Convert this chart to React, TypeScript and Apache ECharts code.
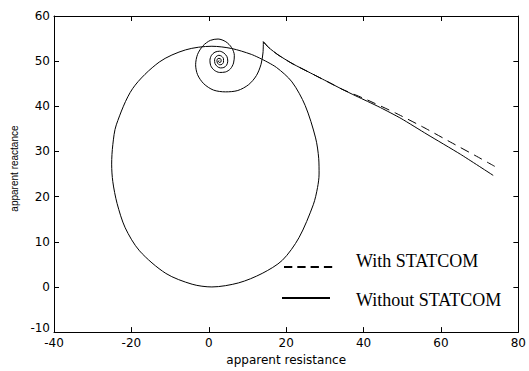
import React, { useEffect, useRef } from "react";
import * as echarts from "echarts";

// x-axis / y-axis ranges & ticks
const xTicks = [-40, -20, 0, 20, 40, 60, 80];
const yTicks = [-10, 0, 10, 20, 30, 40, 50, 60];

// Without STATCOM: approach line (peak -> end)
const solidLine: number[][] = [
  [14.1, 54.3], [15.5, 53.0], [17.9, 51.4], [21.5, 49.5], [26.7, 47.2],
  [30.8, 45.4], [34.4, 43.8], [38.0, 42.3], [41.0, 41.1], [44.4, 39.7],
  [49.7, 37.3], [56.4, 33.8], [65.0, 29.4], [73.5, 24.7],
];

// With STATCOM: approach line (peak -> end)
const dashedLine: number[][] = [
  [14.1, 54.3], [15.5, 53.0], [17.9, 51.4], [21.5, 49.5], [26.7, 47.2],
  [30.8, 45.4], [34.4, 43.8], [38.0, 42.5], [41.0, 41.4], [48.3, 38.5],
  [55.6, 35.3], [62.4, 32.1], [69.7, 28.7], [73.9, 26.7],
];

// spiral from the peak into the settling point
const spiral: number[][] = [
  [14.1, 54.3], [14.0, 51.8], [13.5, 49.3], [12.3, 46.8], [10.3, 44.8],
  [7.5, 43.5], [4.3, 43.2], [1.2, 43.6], [-1.3, 45.0], [-2.9, 47.0],
  [-3.4, 49.2], [-2.9, 51.5], [-1.5, 53.4], [0.4, 54.6], [2.4, 54.9],
  [4.4, 54.3], [5.9, 53.0], [6.6, 51.3], [6.4, 49.6], [5.6, 48.3],
  [4.3, 47.6], [2.8, 47.5], [1.4, 48.0], [0.5, 49.0], [0.3, 50.2],
  [0.7, 51.3], [1.6, 52.0], [2.8, 52.2], [3.9, 51.8], [4.7, 51.0],
  [4.9, 50.0], [4.6, 49.1], [3.9, 48.6], [3.0, 48.5], [2.2, 48.8],
  [1.6, 49.5], [1.5, 50.3], [1.9, 51.0], [2.6, 51.3], [3.3, 51.1],
  [3.8, 50.5], [3.8, 49.8], [3.4, 49.3], [2.8, 49.2], [2.3, 49.5],
  [2.1, 50.1], [2.4, 50.6], [2.9, 50.6], [3.2, 50.2], [3.1, 49.8],
  [2.7, 49.7], [2.5, 50.0], [2.7, 50.2],
];

// large swing loop
const loop: number[][] = [
  [13.8, 50.4], [17.5, 48.6], [21.5, 45.4], [24.9, 40.2], [27.6, 33.0],
  [28.4, 28.5], [28.5, 25.0], [28.1, 22.0], [27.0, 18.2], [23.3, 10.9],
  [19.0, 5.9], [13.8, 3.0], [7.7, 0.9], [0.8, 0.0], [-4.3, 0.6],
  [-11.1, 3.0], [-17.9, 8.0], [-21.6, 13.1], [-23.7, 18.5], [-24.8, 23.3],
  [-25.1, 27.2], [-24.8, 31.5], [-23.9, 35.9], [-19.7, 43.9], [-12.8, 49.8],
  [-6.0, 52.5], [0.8, 53.3], [5.9, 52.8], [11.0, 51.5], [13.8, 50.4],
];

const legendNames = ["With STATCOM", "Without STATCOM"];

export default function App() {
  const ref = useRef<HTMLDivElement>(null);
  useEffect(() => {
    if (!ref.current) return;
    const chart = echarts.init(ref.current, undefined, { renderer: "svg" });
    const tickFont = { color: "#000", fontSize: 12, fontFamily: "DejaVu Sans" };
    const axisLine = { show: true, onZero: false, lineStyle: { color: "#000", width: 1 } };
    const tick = { show: true, inside: true, length: 5, lineStyle: { color: "#000" } };
    const lineBase = { type: "line", symbol: "none", silent: true, z: 2 };
    chart.setOption({
      animation: false,
      backgroundColor: "#fff",
      grid: { left: 54, right: 7, top: 16, bottom: 33, containLabel: false },
      xAxis: [
        {
          type: "value", min: xTicks[0], max: xTicks[xTicks.length - 1], interval: 20,
          position: "bottom", axisLine, axisTick: tick, splitLine: { show: false },
          axisLabel: { ...tickFont, margin: 5 },
          name: "apparent resistance", nameLocation: "middle", nameGap: 19,
          nameTextStyle: { color: "#000", fontSize: 12, fontFamily: "DejaVu Sans" },
        },
        {
          type: "value", min: xTicks[0], max: xTicks[xTicks.length - 1], interval: 20,
          position: "top", axisLine, axisTick: tick, splitLine: { show: false },
          axisLabel: { show: false },
        },
      ],
      yAxis: [
        {
          type: "value", min: yTicks[0], max: yTicks[yTicks.length - 1], interval: 10,
          position: "left", axisLine, axisTick: tick, splitLine: { show: false },
          axisLabel: {
            ...tickFont, margin: 4,
            formatter: (v: number) => (v === yTicks[0] ? "{lo|" + v + "}" : String(v)),
            rich: { lo: { ...tickFont, padding: [0, 0, 8, 0] } },
          },
          name: "apparent reactance", nameLocation: "middle", nameGap: 31,
          nameTextStyle: { color: "#000", fontSize: 10, fontFamily: "Liberation Sans", padding: [0, 0, 0, 11] },
        },
        {
          type: "value", min: yTicks[0], max: yTicks[yTicks.length - 1], interval: 10,
          position: "right", axisLine, axisTick: tick, splitLine: { show: false },
          axisLabel: { show: false },
        },
      ],
      series: [
        { ...lineBase, name: legendNames[1], data: loop, smooth: 0.3,
          lineStyle: { color: "#000", width: 1 } },
        { ...lineBase, name: legendNames[1], data: spiral, smooth: 0.3,
          lineStyle: { color: "#000", width: 1 } },
        { ...lineBase, name: legendNames[1], data: solidLine, smooth: 0.2,
          lineStyle: { color: "#000", width: 1 } },
        { ...lineBase, name: legendNames[0], data: dashedLine, smooth: 0.2, z: 3,
          lineStyle: { color: "#000", width: 1, type: [9, 6] } },
      ],
      graphic: [
        { type: "line", shape: { x1: 284, y1: 267, x2: 334, y2: 267 },
          style: { stroke: "#000", lineWidth: 2, lineDash: [8.3, 5] } },
        { type: "text", x: 356, y: 261,
          style: { text: legendNames[0], fill: "#000", fontSize: 18, fontFamily: "Liberation Serif",
            textVerticalAlign: "middle", verticalAlign: "middle" } },
        { type: "line", shape: { x1: 282, y1: 298, x2: 330, y2: 298 },
          style: { stroke: "#000", lineWidth: 2 } },
        { type: "text", x: 356, y: 300,
          style: { text: legendNames[1], fill: "#000", fontSize: 18, fontFamily: "Liberation Serif",
            textVerticalAlign: "middle", verticalAlign: "middle" } },
      ],
    });
    return () => chart.dispose();
  }, []);
  return (
    <div
      ref={ref}
      style={{ position: "fixed", left: 0, top: 0, width: 529, height: 371, background: "#fff" }}
    />
  );
}
